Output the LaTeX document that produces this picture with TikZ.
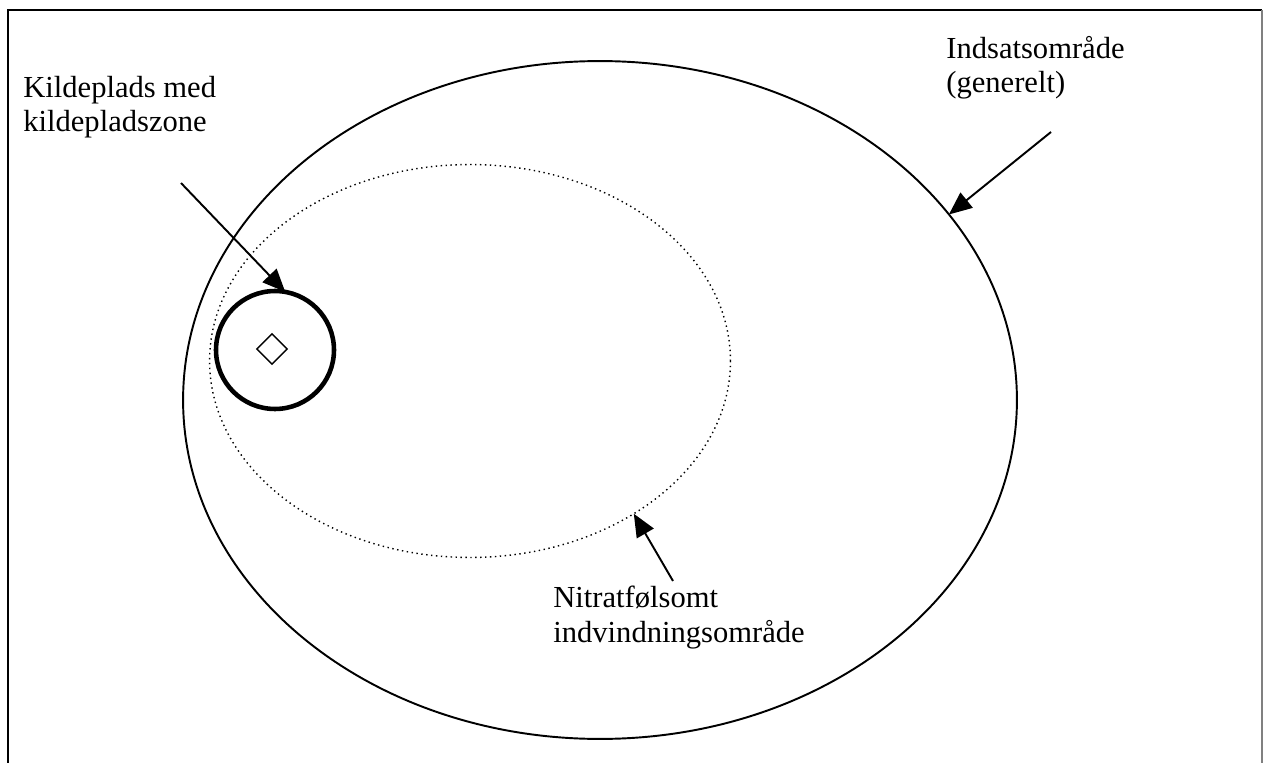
\documentclass[tikz,border=0pt]{standalone}
\usepackage{fontspec}
\setmainfont{Liberation Serif}
\usetikzlibrary{arrows.meta, positioning, shapes.geometric}

\begin{document}
\begin{tikzpicture}[
  x=0.02cm, y=-0.02cm,
  lbl/.style={
    anchor=base west, align=left, inner sep=0pt,
    font=\fontsize{17.4pt}{19.9pt}\selectfont
  },
  zone/.style={
    ellipse, draw=black, line width=1.1pt, inner sep=0pt, outer sep=0pt
  },
  nzone/.style={
    ellipse, draw=black, dotted, line width=0.8pt, inner sep=0pt, outer sep=0pt
  },
  kzone/.style={
    circle, draw=black, line width=2.6pt, inner sep=0pt, outer sep=0pt
  },
  boring/.style={
    diamond, draw=black, line width=0.8pt, aspect=1, inner sep=0pt
  },
  arr/.style={-{Triangle[length=13pt,width=11pt]}, line width=1.1pt, black}
]
\useasboundingbox (0,0) rectangle (1263,763);

%% ── Ramme ───────────────────────────────────────────────────────────────────
\draw[line width=1.6pt] (8,763) -- (8,10) -- (1262,10);
\draw[line width=1.2pt, gray] (1262,10) -- (1262,763);

%% ── Zoner ───────────────────────────────────────────────────────────────────
\node[zone,  minimum width=16.68cm, minimum height=13.56cm] (indsats) at (600,400) {};
\node[nzone, minimum width=10.42cm, minimum height=7.86cm]  (nitrat)  at (470,361) {};
\node[kzone, minimum size=2.36cm]                            (kp)      at (275,350) {};
\node[boring, minimum size=0.62cm]                           (bor)     at (272,349) {};

%% ── Tekster ─────────────────────────────────────────────────────────────────
\node[lbl] (tkp) at (23,132)  {Kildeplads med\\kildepladszone};
\node[lbl] (tin) at (946,93)  {Indsatsområde\\(generelt)};
\node[lbl] (tni) at (553,642) {Nitratfølsomt\\indvindningsområde};

%% ── Pile ────────────────────────────────────────────────────────────────────
\coordinate (akp) at (181,183);
\coordinate (ain) at (1051,132);
\coordinate (ani) at (673,581);
\draw[arr] (akp) -- (kp.80);
\draw[arr] (ain) -- (indsats.28);
\draw[arr] (ani) -- (nitrat.-43);

\end{tikzpicture}
\end{document}
